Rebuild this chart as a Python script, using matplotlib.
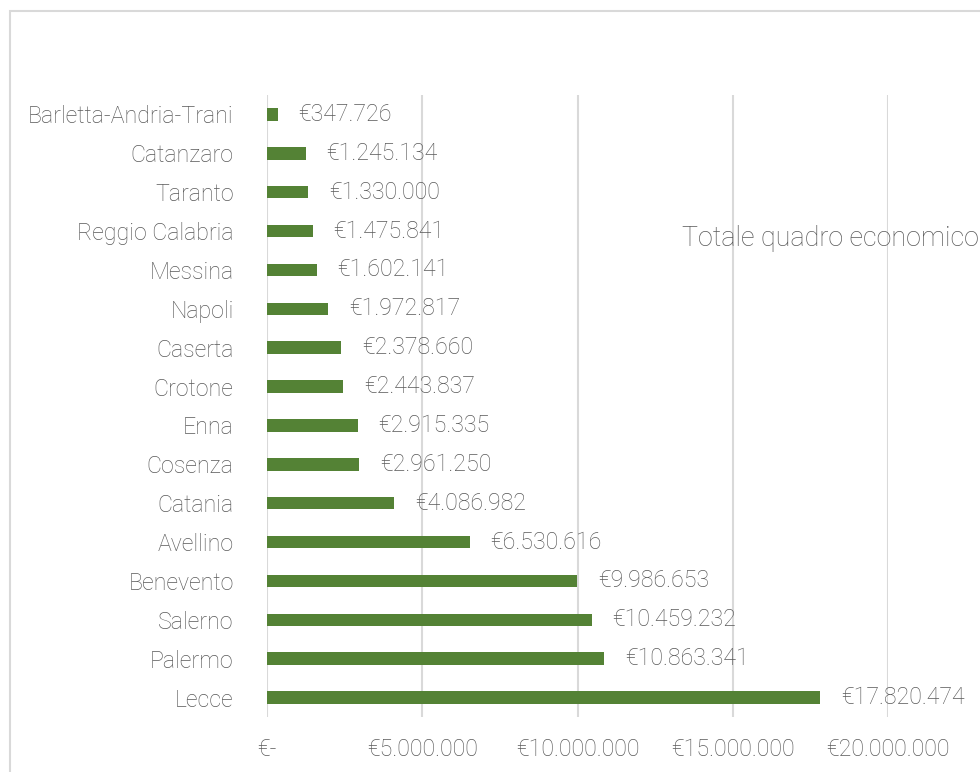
import matplotlib
matplotlib.use('Agg')
import matplotlib.pyplot as plt
from matplotlib.patches import Rectangle

plt.rcParams['font.family'] = ['Roboto', 'DejaVu Sans']
plt.rcParams['font.weight'] = 'light'

# Importi per provincia (dal più piccolo in alto al più grande in basso)
province = ['Barletta-Andria-Trani', 'Catanzaro', 'Taranto', 'Reggio Calabria',
            'Messina', 'Napoli', 'Caserta', 'Crotone', 'Enna', 'Cosenza',
            'Catania', 'Avellino', 'Benevento', 'Salerno', 'Palermo', 'Lecce']
importi = [347726, 1245134, 1330000, 1475841, 1602141, 1972817, 2378660,
           2443837, 2915335, 2961250, 4086982, 6530616, 9986653, 10459232,
           10863341, 17820474]
xticks = [0, 5000000, 10000000, 15000000, 20000000]
serie = 'Totale quadro economico'

verde = '#548235'
testo = '#595959'
griglia = '#D9D9D9'


def euro(v):
    if v == 0:
        return '€-'
    return '€' + f'{v:,}'.replace(',', '.')


fig = plt.figure(figsize=(9.8, 7.72), dpi=100)

# cornice del grafico
fig.patches.append(Rectangle((10 / 980, -0.1), 1.1, (772 - 10.5) / 772 + 0.1,
                             transform=fig.transFigure, fill=False,
                             edgecolor=griglia, linewidth=1.5))

ax = fig.add_axes([267 / 980, 55 / 772, 621 / 980, 622 / 772])
pos = list(range(len(province)))
ax.barh(pos, importi, height=0.32, color=verde, zorder=3)

ax.set_xlim(0, 20000000)
ax.set_ylim(len(province) - 0.5, -0.5)
ax.set_yticks(pos)
ax.set_yticklabels(province)
ax.set_xticks(xticks)
ax.set_xticklabels([euro(t) for t in xticks])
ax.tick_params(axis='both', length=0, labelsize=16.7, labelcolor=testo)
ax.tick_params(axis='y', pad=24)
ax.tick_params(axis='x', pad=15)

ax.grid(axis='x', color=griglia, linewidth=1.5, zorder=0)
for s in ax.spines.values():
    s.set_visible(False)

for y, v in zip(pos, importi):
    ax.annotate(euro(v), (v, y), xytext=(15, 0), textcoords='offset points',
                va='center', ha='left', fontsize=16.7, color=testo,
                annotation_clip=False, zorder=4)

fig.text(682 / 980, (772 - 238) / 772, serie, fontsize=19.4, color=testo,
         va='center', ha='left')

fig.savefig('out.png', dpi=100)
